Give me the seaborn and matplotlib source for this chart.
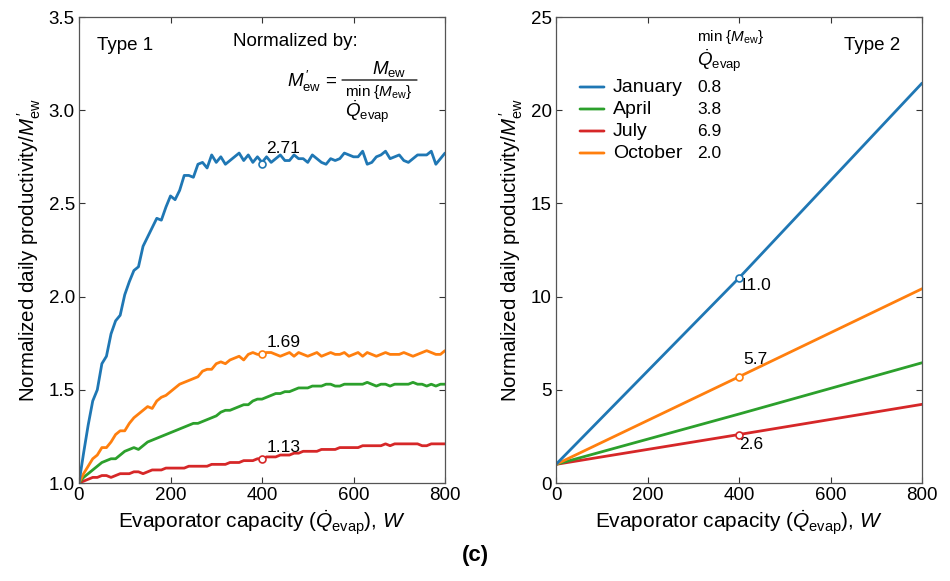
import numpy as np
import pandas as pd
import matplotlib
matplotlib.use("Agg")
import matplotlib.pyplot as plt
import seaborn as sns

# ---------------- data ----------------
capacity = list(range(0, 810, 10))  # W

type1_january = [1.00, 1.16, 1.31, 1.44, 1.50, 1.64, 1.68, 1.80, 1.87, 1.90,
                 2.01, 2.08, 2.14, 2.16, 2.27, 2.32, 2.37, 2.42, 2.41, 2.48,
                 2.54, 2.52, 2.57, 2.65, 2.65, 2.64, 2.71, 2.72, 2.69, 2.76,
                 2.72, 2.75, 2.71, 2.73, 2.75, 2.77, 2.73, 2.76, 2.72, 2.75,
                 2.72, 2.75, 2.72, 2.74, 2.76, 2.73, 2.73, 2.76, 2.74, 2.74,
                 2.72, 2.76, 2.74, 2.72, 2.71, 2.74, 2.73, 2.74, 2.77, 2.76,
                 2.75, 2.75, 2.78, 2.71, 2.72, 2.75, 2.76, 2.78, 2.74, 2.75,
                 2.76, 2.73, 2.72, 2.74, 2.76, 2.76, 2.76, 2.78, 2.71, 2.74,
                 2.77]
type1_april = [1.00, 1.03, 1.05, 1.07, 1.09, 1.11, 1.12, 1.13, 1.13, 1.15,
               1.17, 1.18, 1.19, 1.18, 1.20, 1.22, 1.23, 1.24, 1.25, 1.26,
               1.27, 1.28, 1.29, 1.30, 1.31, 1.32, 1.32, 1.33, 1.34, 1.35,
               1.36, 1.38, 1.39, 1.39, 1.40, 1.41, 1.42, 1.42, 1.44, 1.45,
               1.45, 1.46, 1.47, 1.48, 1.48, 1.49, 1.49, 1.50, 1.51, 1.51,
               1.51, 1.52, 1.52, 1.52, 1.53, 1.53, 1.52, 1.52, 1.53, 1.53,
               1.53, 1.53, 1.53, 1.54, 1.53, 1.52, 1.53, 1.53, 1.52, 1.53,
               1.53, 1.53, 1.53, 1.54, 1.53, 1.53, 1.52, 1.53, 1.52, 1.53,
               1.53]
type1_july = [1.00, 1.01, 1.02, 1.03, 1.03, 1.04, 1.04, 1.03, 1.04, 1.05,
              1.05, 1.05, 1.06, 1.06, 1.05, 1.06, 1.07, 1.07, 1.07, 1.08,
              1.08, 1.08, 1.08, 1.08, 1.09, 1.09, 1.09, 1.09, 1.09, 1.10,
              1.10, 1.10, 1.10, 1.11, 1.11, 1.11, 1.12, 1.12, 1.12, 1.13,
              1.13, 1.14, 1.14, 1.14, 1.15, 1.15, 1.15, 1.16, 1.16, 1.17,
              1.17, 1.17, 1.17, 1.18, 1.18, 1.18, 1.18, 1.19, 1.19, 1.19,
              1.19, 1.19, 1.20, 1.20, 1.20, 1.20, 1.20, 1.21, 1.20, 1.21,
              1.21, 1.21, 1.21, 1.21, 1.21, 1.20, 1.20, 1.21, 1.21, 1.21,
              1.21]
type1_october = [1.00, 1.05, 1.09, 1.13, 1.15, 1.19, 1.19, 1.22, 1.26, 1.28,
                 1.28, 1.32, 1.35, 1.37, 1.39, 1.41, 1.40, 1.44, 1.46, 1.47,
                 1.49, 1.51, 1.53, 1.54, 1.55, 1.56, 1.57, 1.60, 1.61, 1.61,
                 1.64, 1.65, 1.64, 1.66, 1.67, 1.68, 1.66, 1.69, 1.70, 1.69,
                 1.69, 1.70, 1.70, 1.69, 1.68, 1.69, 1.70, 1.68, 1.70, 1.69,
                 1.68, 1.69, 1.70, 1.68, 1.69, 1.70, 1.69, 1.69, 1.70, 1.68,
                 1.69, 1.70, 1.68, 1.70, 1.69, 1.68, 1.69, 1.70, 1.69, 1.69,
                 1.69, 1.70, 1.69, 1.68, 1.69, 1.70, 1.71, 1.70, 1.69, 1.69,
                 1.71]

type2_capacity = [0, 400, 800]
type2_january = [1.0, 11.0, 21.45]
type2_april = [1.0, 3.7, 6.45]
type2_july = [1.0, 2.6, 4.22]
type2_october = [1.0, 5.7, 10.42]

months = ["January", "April", "July", "October"]
min_ratio = ["0.8", "3.8", "6.9", "2.0"]
type1_marks = {"January": (400, 2.71, "2.71"), "October": (400, 1.69, "1.69"),
               "July": (400, 1.13, "1.13")}
type2_marks = {"January": (400, 11.0, "11.0"), "October": (400, 5.7, "5.7"),
               "July": (400, 2.6, "2.6")}

colors = {"January": "#1f77b4", "April": "#2ca02c", "July": "#d62728",
          "October": "#ff7f0e"}

df1 = pd.concat([
    pd.DataFrame({"W": capacity, "value": v, "month": m})
    for m, v in zip(months, [type1_january, type1_april, type1_july, type1_october])
])
df2 = pd.concat([
    pd.DataFrame({"W": type2_capacity, "value": v, "month": m})
    for m, v in zip(months, [type2_january, type2_april, type2_july, type2_october])
])

# ---------------- style ----------------
sns.set_theme(style="ticks")
plt.rcParams["font.family"] = ["Liberation Sans", "DejaVu Sans"]
plt.rcParams["mathtext.fontset"] = "custom"
plt.rcParams["mathtext.rm"] = "Liberation Sans"
plt.rcParams["mathtext.it"] = "Liberation Sans:italic"
plt.rcParams["mathtext.bf"] = "Liberation Sans:bold"
plt.rcParams["text.color"] = "black"
plt.rcParams["axes.labelcolor"] = "black"
plt.rcParams["xtick.color"] = "black"
plt.rcParams["ytick.color"] = "black"

fig = plt.figure(figsize=(9.5, 5.81), dpi=100)
ax1 = fig.add_axes([79 / 950, 98 / 581, 366 / 950, 466 / 581])
ax2 = fig.add_axes([556 / 950, 98 / 581, 366 / 950, 466 / 581])

LW = 2.0
sns.lineplot(data=df1, x="W", y="value", hue="month", palette=colors,
             hue_order=["July", "April", "October", "January"],
             linewidth=LW, legend=False, ax=ax1)
sns.lineplot(data=df2, x="W", y="value", hue="month", palette=colors,
             hue_order=["July", "April", "October", "January"],
             linewidth=LW, legend=False, ax=ax2)

for m, (x, y, _) in type1_marks.items():
    ax1.plot([x], [y], "o", ms=5, mfc="white", mec=colors[m], mew=1.2, zorder=5)
for m, (x, y, _) in type2_marks.items():
    ax2.plot([x], [y], "o", ms=5, mfc="white", mec=colors[m], mew=1.2, zorder=5)

ann_fs = 12.5
ax1.annotate(type1_marks["January"][2], (400, 2.71), xytext=(3, 6),
             textcoords="offset points", fontsize=ann_fs, va="bottom", ha="left")
ax1.annotate(type1_marks["October"][2], (400, 1.69), xytext=(3, 3),
             textcoords="offset points", fontsize=ann_fs, va="bottom", ha="left")
ax1.annotate(type1_marks["July"][2], (400, 1.13), xytext=(3, 3),
             textcoords="offset points", fontsize=ann_fs, va="bottom", ha="left")
ax2.annotate(type2_marks["January"][2], (400, 11.0), xytext=(0, 0),
             textcoords="offset points", fontsize=ann_fs, va="top", ha="left")
ax2.annotate(type2_marks["October"][2], (400, 5.7), xytext=(3, 7),
             textcoords="offset points", fontsize=ann_fs, va="bottom", ha="left")
ax2.annotate(type2_marks["July"][2], (400, 2.6), xytext=(0, -2),
             textcoords="offset points", fontsize=ann_fs, va="top", ha="left")

# ---------------- axes ----------------
tick_fs = 13.5
xlab_fs = 15
ylab_fs = 14.8
xlabel = r"Evaporator capacity ($\dot{Q}_{\mathrm{evap}}$), $W$"
ylabel = r"Normalized daily productivity/$M^{\,\prime}_{\mathrm{ew}}$"
for ax in (ax1, ax2):
    ax.set_xlim(0, 800)
    ax.set_xticks([0, 200, 400, 600, 800])
    ax.tick_params(direction="in", top=True, right=True, length=4, width=0.8,
                   labelsize=tick_fs, color="#333333", pad=3)
    for s in ax.spines.values():
        s.set_color("#555555")
        s.set_linewidth(0.9)
    ax.set_xlabel(xlabel, fontsize=xlab_fs, labelpad=3)
    ax.set_ylabel(ylabel, fontsize=ylab_fs, labelpad=4)

ax1.set_ylim(1.0, 3.5)
ax1.set_yticks([1.0, 1.5, 2.0, 2.5, 3.0, 3.5])
ax1.set_yticklabels(["1.0", "1.5", "2.0", "2.5", "3.0", "3.5"])
ax2.set_ylim(0, 25)
ax2.set_yticks([0, 5, 10, 15, 20, 25])

# ---------------- texts, left ----------------
tfs = 13.5
ax1.text(18 / 366, 1 - 28 / 466, "Type 1", transform=ax1.transAxes,
         fontsize=tfs, va="center", ha="left")
ax1.text(154 / 366, 1 - 24 / 466, "Normalized by:", transform=ax1.transAxes,
         fontsize=tfs, va="center", ha="left")
ax1.text(258 / 366, 1 - 64 / 466, r"$M^{\,\prime}_{\mathrm{ew}}$ =",
         transform=ax1.transAxes, fontsize=tfs, va="center", ha="right")
ax1.text(310 / 366, 1 - 52 / 466, r"$M_{\mathrm{ew}}$",
         transform=ax1.transAxes, fontsize=tfs, va="center", ha="center")
ax1.annotate("", xy=(338 / 366, 1 - 63 / 466), xytext=(263 / 366, 1 - 63 / 466),
             xycoords="axes fraction",
             arrowprops=dict(arrowstyle="-", lw=0.9, color="black",
                             shrinkA=0, shrinkB=0))
ax1.text(300 / 366, 1 - 75 / 466, r"min {$M_{\mathrm{ew}}$}",
         transform=ax1.transAxes, fontsize=11, va="center", ha="center")
ax1.text(266 / 366, 1 - 95 / 466, r"$\dot{Q}_{\mathrm{evap}}$",
         transform=ax1.transAxes, fontsize=tfs, va="center", ha="left")

# ---------------- texts, right (legend) ----------------
ax2.text(1 - 22 / 366, 1 - 28 / 466, "Type 2", transform=ax2.transAxes,
         fontsize=tfs, va="center", ha="right")
ax2.text(141 / 366, 1 - 20 / 466, r"min {$M_{\mathrm{ew}}$}",
         transform=ax2.transAxes, fontsize=11, va="center", ha="left")
ax2.text(141 / 366, 1 - 44 / 466, r"$\dot{Q}_{\mathrm{evap}}$",
         transform=ax2.transAxes, fontsize=tfs, va="center", ha="left")
row_y = [70, 92, 114, 136]
for m, r, yy in zip(months, min_ratio, row_y):
    yf = 1 - yy / 466
    ax2.annotate("", xy=(48 / 366, yf), xytext=(24 / 366, yf),
                 xycoords="axes fraction",
                 arrowprops=dict(arrowstyle="-", lw=LW, color=colors[m],
                                 shrinkA=0, shrinkB=0))
    ax2.text(57 / 366, yf, m, transform=ax2.transAxes, fontsize=14,
             va="center", ha="left")
    ax2.text(141 / 366, yf, r, transform=ax2.transAxes, fontsize=12.5,
             va="center", ha="left")

fig.text(475 / 950, 1 - 555 / 581, "(c)", fontsize=16, fontweight="bold",
         ha="center", va="center")

fig.savefig("out.png", dpi=100)
